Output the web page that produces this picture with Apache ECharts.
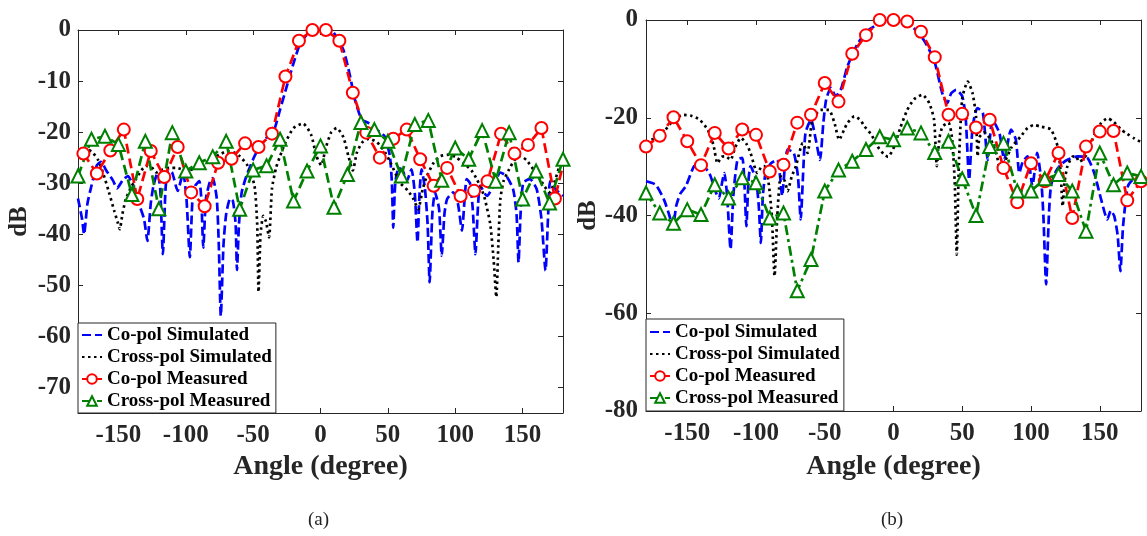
<!DOCTYPE html>
<html><head><meta charset="utf-8">
<script src="https://cdn.jsdelivr.net/npm/echarts@6/dist/echarts.min.js"></script>
<style>html,body{margin:0;padding:0;background:#fff}#c{width:1147px;height:536px}</style>
</head><body><div id="c"></div>
<script>
// ---------- tick labels / names ----------
const xTicks = [-150, -100, -50, 0, 50, 100, 150];
const yTicksA = [-70, -60, -50, -40, -30, -20, -10, 0];
const seriesNames = ['Co-pol Simulated', 'Cross-pol Simulated', 'Co-pol Measured', 'Cross-pol Measured'];
const panelLabels = ['(a)', '(b)'];

// ---------- panel (a) ----------
const coSimA = [[-180,-33],[-177,-37],[-175.5,-40],[-173,-34],[-170,-30.5],[-166,-26.5],[-163,-25.8],[-159,-27.5],[-154,-29.5],[-151,-31],[-147,-29.5],[-143,-28.6],[-139,-30.5],[-135.5,-33.5],[-131,-37],[-128.5,-41.3],[-126,-34],[-124,-30.5],[-121,-28],[-119,-31],[-117,-43.9],[-115,-31],[-113,-27.3],[-110,-28],[-106,-31.5],[-102,-28],[-99.5,-33],[-97,-44.5],[-95,-33],[-93,-30.5],[-90,-29.6],[-88.5,-33],[-87,-42.6],[-85,-33],[-82,-29.6],[-80,-29],[-77,-33],[-75.5,-42],[-74,-56],[-72,-42],[-70,-36],[-67,-33],[-65,-33.5],[-63,-38],[-62,-47],[-60.5,-38],[-58.5,-31.8],[-55,-28.6],[-50,-25.3],[-45,-22.7],[-39,-20.8],[-35,-20],[-30,-15.6],[-25,-11],[-20,-6.5],[-15,-2.6],[-9,-0.6],[-3,0],[2,0],[9,-0.3],[17,-3.9],[22,-9.1],[25.5,-13.6],[30.5,-17.5],[35.5,-18.2],[41.5,-19.5],[47.5,-20.8],[51.5,-24.7],[53,-30],[54,-38.7],[55.5,-30],[58,-27],[61,-27.5],[64,-29.6],[67.5,-27.3],[70,-32],[72,-41.6],[73.5,-32],[75,-27.3],[77.5,-31],[79.5,-38],[81,-49.4],[83,-36],[85,-31.8],[88,-35],[90,-44.2],[92,-36],[94,-33.1],[98.5,-31.8],[102,-34],[105,-39.3],[107,-33],[108.5,-29.2],[111,-30],[113,-35],[115,-43.9],[117,-34],[118.5,-30.5],[123.5,-32.5],[128.5,-30.5],[133.5,-27.9],[138,-28.6],[143,-31.2],[145.5,-36],[147,-45.5],[148.5,-36],[150.5,-29.9],[155.5,-29.2],[160.5,-31.2],[164,-37],[167,-47.1],[169,-36],[170.5,-29.6],[174.5,-31.2],[180,-32.5]];
const crossSimA = [[-180,-24],[-176.5,-23.4],[-172,-23.5],[-169,-24],[-165,-25.5],[-161.5,-27.9],[-157,-31.8],[-153,-35.5],[-150.5,-37.7],[-149,-39],[-147,-36],[-144.5,-33.1],[-141,-31],[-137,-29.2],[-133,-27.5],[-129.5,-26.6],[-125,-27],[-122,-27.9],[-117,-27.3],[-112,-27],[-107,-27],[-100,-27.5],[-95,-27.3],[-90,-26.8],[-85,-26],[-80,-25],[-75,-24.4],[-69,-23.7],[-64,-24],[-60,-24.7],[-54,-26.6],[-49,-30.5],[-47,-38],[-46,-51.3],[-44.5,-40],[-42.5,-36.4],[-40.5,-37.5],[-38.2,-40.6],[-36,-31],[-33,-27],[-30,-24.7],[-26,-22],[-20,-19.2],[-13,-18.3],[-7,-20.5],[-3,-24.7],[0.5,-26.5],[4,-23],[8,-20],[12,-19.2],[17,-21],[21,-25],[24,-27.5],[27,-24],[31,-22],[36,-21.3],[42,-22],[48,-24],[52,-26],[59,-29.9],[65,-31.5],[69,-33.1],[72.5,-35.1],[76,-31],[79,-28.6],[84,-26],[89,-24.7],[96,-24.4],[101,-25],[106,-26],[112,-27.5],[116,-29.2],[120,-31.5],[122,-33.1],[126,-38],[128.5,-45],[130.5,-52.3],[132,-42],[133.5,-33.1],[136,-29.5],[140,-27.3],[144,-25.5],[148.5,-24.7],[153,-25.5],[158,-27.3],[162,-28.8],[166,-30.5],[170,-31.8],[174,-29.5],[177,-27],[180,-25.3]];
const coMeasA = [[-176,-24.2],[-166,-28.1],[-156,-23.6],[-146,-19.5],[-136,-33.1],[-126,-23.7],[-116,-28.8],[-106,-22.9],[-96,-31.8],[-86,-34.5],[-76,-26],[-66,-25.2],[-56,-22.2],[-46,-22.9],[-36,-20.3],[-26,-9.1],[-16,-2.1],[-6,0],[4,0],[14,-2.1],[24,-12.3],[34,-20.1],[44,-25],[54,-21.3],[64,-19.5],[74,-25.3],[84,-30.5],[94,-27],[104,-32.5],[114,-31.5],[124,-29.6],[134,-20.3],[144,-24.2],[154,-22.5],[164,-19.2],[174,-33],[184,-22]];
const crossMeasA = [[-180,-28.6],[-170,-21.4],[-160,-20.8],[-150,-22.4],[-140,-32.2],[-130,-21.8],[-120,-35],[-110,-20.1],[-100,-27.6],[-90,-26],[-80,-24.8],[-70,-21.8],[-60,-35.1],[-50,-27.4],[-40,-26.6],[-30,-21.4],[-20,-33.5],[-10,-27.6],[0,-22.7],[10,-34.7],[20,-28.3],[30,-18.1],[40,-19.5],[50,-21.8],[60,-28.6],[70,-18.5],[80,-17.7],[90,-29.4],[100,-23.1],[110,-25.3],[120,-19.7],[130,-29.6],[140,-20.1],[150,-33.1],[160,-27.6],[170,-33.9],[180,-25.3]];

// ---------- panel (b) ----------
const coSimB = [[-180,-33],[-173,-33.7],[-167,-36.7],[-163,-40],[-160.5,-42.5],[-158,-38],[-155,-35.5],[-151,-34],[-145,-29.9],[-140,-29.6],[-134,-31.3],[-129,-35.4],[-127,-36.5],[-124.5,-33],[-123,-31.3],[-121,-36],[-118.5,-46.9],[-116.5,-36],[-113.5,-28.6],[-110,-28.2],[-108.5,-33],[-107,-42.2],[-105.5,-33],[-104,-29.9],[-100,-32.7],[-98,-38],[-96.5,-45.6],[-95,-36],[-93,-31.3],[-89,-29.3],[-84.5,-28.6],[-82.5,-32],[-81,-36],[-79,-30],[-77,-26.5],[-72.5,-27.2],[-69.5,-32],[-67.5,-40.8],[-65.5,-30],[-64,-23.1],[-60,-20.4],[-56.5,-24.5],[-53.5,-28.6],[-51,-21],[-49,-16.3],[-45.5,-13.9],[-42,-15.6],[-38,-14],[-33.5,-9.5],[-26,-4.8],[-18,-2],[-7,-0.3],[0,0],[6,-0.2],[12.5,-1],[22,-4.1],[29.5,-8.2],[35.5,-15],[39,-17],[42,-15],[45.5,-14.3],[50,-15.6],[52.5,-20],[55,-32.7],[57.5,-22],[61,-18],[65,-19],[68.5,-28.6],[72,-20.4],[77,-23.1],[80.5,-28.6],[85.5,-22.4],[89,-24.5],[91.5,-31.3],[94,-29],[97.5,-27.9],[101,-34],[104.5,-27.2],[107.5,-33],[109,-40],[111,-54.1],[113,-40],[114.5,-34],[118,-31],[122,-29.5],[126.5,-28.6],[134,-27.9],[141,-28.2],[146,-31.3],[151,-36.7],[155.5,-40.8],[158,-39],[160.5,-40.1],[163,-44],[165,-51.4],[167,-42],[170.5,-34],[175,-32.5],[180,-33.5]];
const crossSimB = [[-180,-25],[-176,-24.5],[-172,-24],[-166,-22.5],[-160,-20.5],[-153,-19.4],[-147,-19.6],[-141,-20.4],[-135,-22.5],[-131,-25.5],[-128,-29.3],[-125,-28],[-122,-27.9],[-118.5,-28.6],[-115,-26],[-111,-24.1],[-107,-25.3],[-104,-27.2],[-99,-31.3],[-96,-30],[-94,-29.9],[-91,-33],[-88.5,-40],[-86.5,-52.4],[-84.5,-40],[-82,-32],[-79,-33],[-77,-35],[-74,-32],[-71,-29.9],[-66,-25.2],[-62.5,-27.2],[-59,-20.4],[-53,-18.4],[-47,-18.4],[-43,-21],[-39.5,-24.5],[-36,-22.5],[-33.5,-21.1],[-28.5,-19.7],[-24,-20.5],[-21,-21.8],[-16,-23.5],[-11.5,-25.9],[-7,-27.5],[-4,-28],[0.5,-25.9],[5,-22],[10,-18.4],[15,-16.2],[21,-15.3],[26,-17],[29.5,-20.4],[31.5,-29.9],[33.5,-24],[35.7,-21.8],[40,-21],[42.5,-24],[44.5,-33],[46,-48],[47.5,-30],[50,-16],[54,-12.6],[57.5,-15],[60,-19.7],[61.2,-27.9],[62.5,-24],[66,-23],[70.8,-24.5],[75,-27.5],[78,-31.3],[81,-29],[86,-26],[92.6,-23.8],[97.5,-22.1],[102,-21.5],[107,-21.8],[114.5,-22.4],[119.4,-25.9],[121.5,-31],[123,-38.1],[124.5,-33],[126.5,-29.9],[130,-28],[132.7,-27.9],[135,-29],[138,-28.5],[141,-27.2],[146,-23.5],[151,-21.1],[155.7,-20.1],[160,-20.8],[165.4,-22.4],[170,-23.3],[175,-24.2],[180,-25]];
const coMeasB = [[-180,-25.9],[-170,-23.7],[-160,-19.9],[-150,-24.8],[-140,-29.7],[-130,-23.1],[-120,-26.3],[-110,-22.4],[-100,-23.5],[-90,-31],[-80,-29.6],[-70,-21],[-60,-19.4],[-50,-12.9],[-40,-16.7],[-30,-6.9],[-20,-3.1],[-10,0],[0,0],[10,-0.3],[20,-2.4],[30,-7.6],[40,-19.4],[50,-19.2],[60,-22],[70,-20.4],[80,-30.3],[90,-37.3],[100,-29.3],[110,-33],[120,-27.2],[130,-40.5],[140,-25.9],[150,-22.8],[160,-22.7],[170,-36.9],[180,-33]];
const crossMeasB = [[-180,-35.4],[-170,-39.5],[-160,-41.6],[-150,-38.8],[-140,-39.8],[-130,-33.7],[-120,-36.4],[-110,-32.3],[-100,-33.3],[-90,-40.5],[-80,-39.5],[-70,-55.4],[-60,-49],[-50,-35],[-40,-30.7],[-30,-28.9],[-20,-26.5],[-10,-23.9],[0,-24.5],[10,-22.1],[20,-23.1],[30,-27.1],[40,-24.8],[50,-32.5],[60,-40],[70,-25.9],[80,-25.2],[90,-35],[100,-35],[110,-32.5],[120,-31.6],[130,-35],[140,-43.2],[150,-27.2],[160,-33.7],[170,-31.3],[180,-32]];

// ---------- styling ----------
const FONT = "'Liberation Serif','Times New Roman',serif";
const AX = '#262626';
const LW = 2.7;
const chart = echarts.init(document.getElementById('c'), null, {renderer: 'canvas'});

function bottomX(g, gap) {
  return {type: 'value', gridIndex: g, position: 'bottom', min: -180, max: 180,
    axisLine: {onZero: false, lineStyle: {color: AX, width: 1}},
    axisTick: {inside: true, length: 5, customValues: xTicks, lineStyle: {color: AX}},
    axisLabel: {customValues: xTicks, margin: 10, color: AX, fontFamily: FONT, fontWeight: 'bold', fontSize: 25},
    splitLine: {show: false},
    name: 'Angle (degree)', nameLocation: 'middle', nameGap: gap,
    nameTextStyle: {color: AX, fontFamily: FONT, fontWeight: 'bold', fontSize: 28}};
}
function topX(g) {
  return {type: 'value', gridIndex: g, position: 'top', min: -180, max: 180,
    axisLine: {onZero: false, lineStyle: {color: AX, width: 1}},
    axisTick: {inside: true, length: 5, customValues: xTicks, lineStyle: {color: AX}},
    axisLabel: {show: false}, splitLine: {show: false}};
}
function leftY(g, extra, gap) {
  return Object.assign({type: 'value', gridIndex: g, position: 'left', max: 0,
    axisLine: {onZero: false, show: true, lineStyle: {color: AX, width: 1}},
    splitLine: {show: false},
    name: 'dB', nameLocation: 'middle', nameGap: gap,
    nameTextStyle: {color: AX, fontFamily: FONT, fontWeight: 'bold', fontSize: 25}}, extra);
}
function rightY(g, extra) {
  return Object.assign({type: 'value', gridIndex: g, position: 'right', max: 0,
    axisLine: {onZero: false, show: true, lineStyle: {color: AX, width: 1}},
    splitLine: {show: false}}, extra);
}
const labelStyle = {color: AX, fontFamily: FONT, fontWeight: 'bold', fontSize: 25};

function seriesSet(xi, yi, coSim, crossSim, coMeas, crossMeas, greenDash) {
  return [
    {type: 'line', name: seriesNames[0], xAxisIndex: xi, yAxisIndex: yi, data: coSim, symbol: 'none', smooth: 0.2,
      lineStyle: {color: '#0000ff', width: LW, type: [9, 4]}, itemStyle: {color: '#0000ff'}, z: 2},
    {type: 'line', name: seriesNames[1], xAxisIndex: xi, yAxisIndex: yi, data: crossSim, symbol: 'none', smooth: 0.2,
      lineStyle: {color: '#000000', width: LW, type: [2.5, 3.5]}, itemStyle: {color: '#000000'}, z: 2},
    {type: 'line', name: seriesNames[2], xAxisIndex: xi, yAxisIndex: yi, data: coMeas, symbol: 'emptyCircle', symbolSize: 12,
      lineStyle: {color: '#ff0000', width: LW, type: [10, 5]}, itemStyle: {color: '#ff0000', borderWidth: 2.7}, z: 3},
    {type: 'line', name: seriesNames[3], xAxisIndex: xi, yAxisIndex: yi, data: crossMeas, symbol: 'emptyTriangle', symbolSize: 13,
      lineStyle: {color: '#008000', width: LW, type: greenDash}, itemStyle: {color: '#008000', borderWidth: 2.7}, z: 3}
  ];
}
const hiddenMark = {color: 'rgba(0,0,0,0)', borderColor: 'rgba(0,0,0,0)', borderWidth: 0};
function legendAt(left, top, pad) {
  return {left: left, top: top, orient: 'vertical', selectedMode: false,
    data: [
      {name: seriesNames[0], itemStyle: hiddenMark},
      {name: seriesNames[1], itemStyle: hiddenMark},
      {name: seriesNames[2]},
      {name: seriesNames[3]}
    ],
    itemWidth: 20, itemHeight: 12, itemGap: 2, padding: pad,
    borderColor: AX, borderWidth: 1, backgroundColor: '#ffffff', borderRadius: 0,
    textStyle: {fontFamily: FONT, fontWeight: 'bold', fontSize: 19, color: '#000', lineHeight: 20}};
}

chart.setOption({
  animation: false,
  backgroundColor: '#ffffff',
  grid: [
    {left: 78, top: 30, width: 485, height: 383},
    {left: 646, top: 20, width: 495, height: 391}
  ],
  xAxis: [bottomX(0, 40), topX(0), bottomX(1, 42), topX(1)],
  yAxis: [
    leftY(0, {min: -75, axisTick: {inside: true, length: 5, customValues: yTicksA, lineStyle: {color: AX}},
      axisLabel: Object.assign({customValues: yTicksA, margin: 7}, labelStyle)}, 46),
    rightY(0, {min: -75, axisTick: {inside: true, length: 5, customValues: yTicksA, lineStyle: {color: AX}}, axisLabel: {show: false}}),
    leftY(1, {min: -80, interval: 20, axisTick: {inside: true, length: 5, lineStyle: {color: AX}},
      axisLabel: Object.assign({margin: 8}, labelStyle)}, 44),
    rightY(1, {min: -80, interval: 20, axisTick: {inside: true, length: 5, lineStyle: {color: AX}}, axisLabel: {show: false}})
  ],
  legend: [legendAt(78, 323, [2, 4, 2, 3]), legendAt(646, 319, [3, 4, 3, 3])],
  graphic: [
    {type: 'text', left: 308, top: 511, style: {text: panelLabels[0], font: "19px 'Liberation Serif'", fill: '#222'}},
    {type: 'text', left: 881, top: 511, style: {text: panelLabels[1], font: "19px 'Liberation Serif'", fill: '#222'}}
  ],
  series: [].concat(
    seriesSet(0, 0, coSimA, crossSimA, coMeasA, crossMeasA, [10, 5]),
    seriesSet(2, 2, coSimB, crossSimB, coMeasB, crossMeasB, [10, 4, 3, 4])
  )
});
</script></body></html>
